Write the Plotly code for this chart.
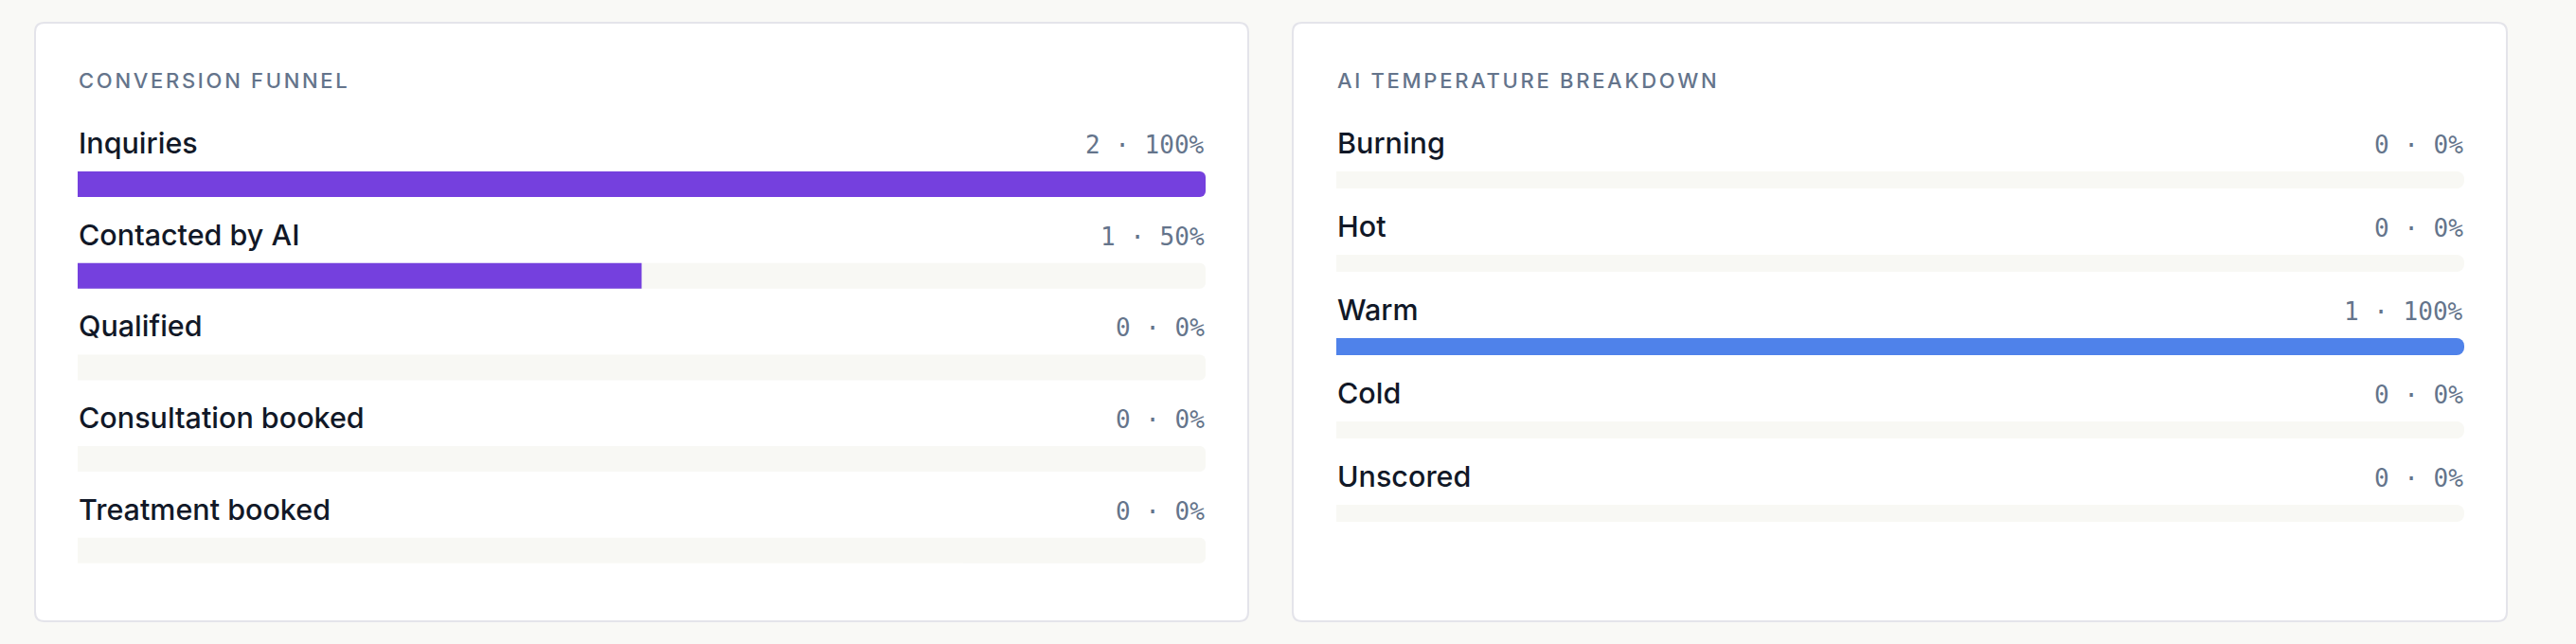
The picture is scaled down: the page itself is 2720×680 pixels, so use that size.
import plotly.graph_objects as go

# ---------------- data ----------------
funnel_stages = ["Inquiries", "Contacted by AI", "Qualified", "Consultation booked", "Treatment booked"]
funnel_counts = [2, 1, 0, 0, 0]
funnel_pcts = [100, 50, 0, 0, 0]

temp_labels = ["Burning", "Hot", "Warm", "Cold", "Unscored"]
temp_counts = [0, 0, 1, 0, 0]
temp_pcts = [0, 0, 100, 0, 0]

panel_titles = ["CONVERSION FUNNEL", "AI TEMPERATURE BREAKDOWN"]

# ---------------- style ----------------
W, H = 2720, 680
PAGE_BG = "#F9F9F6"
CARD_BORDER = "#E4E4EA"
TRACK = "#F8F8F4"
PURPLE = "#7540DE"
BLUE = "#4F82EA"
LABEL_C = "#111827"
MUTED = "#64748B"
SANS = "Inter, 'Noto Sans', sans-serif"
MONO = "'DejaVu Sans Mono', 'Liberation Mono', monospace"

# card geometry (pixels)
cards = [dict(x0=37, x1=1318, y0=24, y1=656), dict(x0=1365, x1=2647, y0=24, y1=656)]
content = [dict(x0=82, x1=1273), dict(x0=1411, x1=2602)]
row0 = [194.5, 190.0]      # pixel center of first bar
step = [96.7, 88.0]        # pixel distance between rows
bar_px = [27, 18]          # bar thickness in pixels
label_gap = [32.5, 28.0]   # baseline of labels above bar center
radius = [6, 8]
PLOT_TOP, PLOT_BOT = 100, 650


def px_x(p):
    return p / W


def px_y(p):
    return (H - p) / H


def rounded_rect(x0, y0, x1, y1, r):
    rx, ry = r / W, r / H
    X0, X1 = px_x(x0), px_x(x1)
    Y0, Y1 = px_y(y0), px_y(y1)
    return (f"M {X0+rx},{Y0} L {X1-rx},{Y0} Q {X1},{Y0} {X1},{Y0-ry} "
            f"L {X1},{Y1+ry} Q {X1},{Y1} {X1-rx},{Y1} L {X0+rx},{Y1} "
            f"Q {X0},{Y1} {X0},{Y1+ry} L {X0},{Y0-ry} Q {X0},{Y0} {X0+rx},{Y0} Z")


fig = go.Figure()

panels = [
    (funnel_stages, funnel_counts, funnel_pcts, PURPLE),
    (temp_labels, temp_counts, temp_pcts, BLUE),
]

annotations = []
for k, (labels, counts, pcts, color) in enumerate(panels):
    xa = "x" if k == 0 else "x2"
    ya = "y" if k == 0 else "y2"
    idx = list(range(len(labels)))
    width_units = bar_px[k] / step[k]
    fig.add_trace(go.Bar(
        x=[100] * len(labels), y=idx, orientation="h", xaxis=xa, yaxis=ya,
        width=width_units, marker=dict(color=TRACK, cornerradius=radius[k], line=dict(width=0)),
        hoverinfo="skip", showlegend=False))
    fig.add_trace(go.Bar(
        x=pcts, y=idx, orientation="h", xaxis=xa, yaxis=ya,
        width=width_units, marker=dict(color=color, cornerradius=radius[k], line=dict(width=0)),
        customdata=counts, hovertemplate="%{customdata} · %{x}%<extra></extra>",
        showlegend=False))

    desc_l = 8.0
    desc_v = 7.0
    for i, (lab, c, p) in enumerate(zip(labels, counts, pcts)):
        yl = i - (label_gap[k] - desc_l) / step[k]
        yv = i - (label_gap[k] - desc_v) / step[k]
        annotations.append(dict(
            x=0, y=yl, xref=xa, yref=ya, xanchor="left", yanchor="bottom",
            text=lab, showarrow=False, borderpad=0,
            font=dict(family=SANS, size=30.5, color=LABEL_C, weight=500)))
        annotations.append(dict(
            x=100, y=yv, xref=xa, yref=ya, xanchor="right", yanchor="bottom",
            text=f"{c} · {p}%", showarrow=False, borderpad=0,
            font=dict(family=MONO, size=26, color=MUTED)))

    annotations.append(dict(
        x=px_x(content[k]["x0"]), y=px_y(98.5), xref="paper", yref="paper",
        xanchor="left", yanchor="bottom", text=panel_titles[k], showarrow=False,
        borderpad=0, font=dict(family=SANS, size=22, color=MUTED, weight=500)))

shapes = []
for c in cards:
    shapes.append(dict(type="path", xref="paper", yref="paper",
                       path=rounded_rect(c["x0"], c["y0"], c["x1"], c["y1"], 10),
                       fillcolor="#FFFFFF", line=dict(color=CARD_BORDER, width=2), layer="below"))


def yrange(k):
    return [(PLOT_BOT - row0[k]) / step[k], (PLOT_TOP - row0[k]) / step[k]]


ydom = [px_y(PLOT_BOT), px_y(PLOT_TOP)]
axis_common = dict(visible=False, showgrid=False, zeroline=False, fixedrange=True)

fig.update_layout(
    width=W, height=H,
    margin=dict(l=0, r=0, t=0, b=0),
    paper_bgcolor=PAGE_BG, plot_bgcolor="rgba(0,0,0,0)",
    barmode="overlay",
    shapes=shapes,
    annotations=annotations,
    xaxis=dict(domain=[px_x(content[0]["x0"]), px_x(content[0]["x1"])], range=[0, 100], **axis_common),
    xaxis2=dict(domain=[px_x(content[1]["x0"]), px_x(content[1]["x1"])], range=[0, 100], anchor="y2", **axis_common),
    yaxis=dict(domain=ydom, range=yrange(0), **axis_common),
    yaxis2=dict(domain=ydom, range=yrange(1), anchor="x2", **axis_common),
    showlegend=False,
)

post = """
document.body.style.margin = '0';
document.body.style.background = '%s';
document.body.style.overflow = 'hidden';
var gd = document.getElementById('{plot_id}');
function spaceTitles() {
  gd.querySelectorAll('.annotation-text').forEach(function (t) {
    if (t.getAttribute('data-spaced') === '1') { return; }
    if (/^[A-Z ]{8,}$/.test(t.textContent)) {
      var b0 = t.getBBox();
      t.style.letterSpacing = '2.7px';
      var b1 = t.getBBox();
      var x = parseFloat(t.getAttribute('x') || '0');
      t.setAttribute('x', x + (b0.x - b1.x));
      t.setAttribute('data-spaced', '1');
    }
  });
}
spaceTitles();
gd.on('plotly_afterplot', spaceTitles);
""" % PAGE_BG

fig.write_html("out.html", config={"displayModeBar": False}, post_script=post)
